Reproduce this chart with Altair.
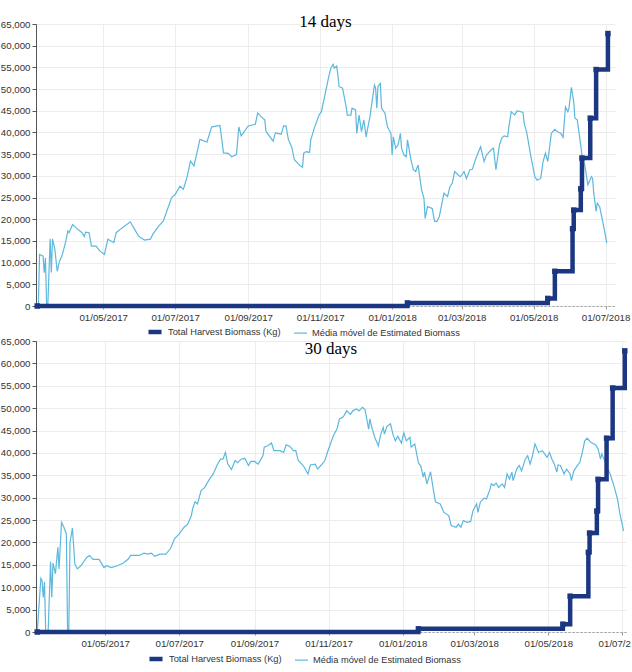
import altair as alt
import pandas as pd

# ---------------- data ----------------
BASE = pd.Timestamp("2017-03-01")   # day 0 for the moving-average day lists

SERIES = ["Total Harvest Biomass (Kg)", "Média móvel de Estimated Biomass"]

harvest_date = ["2017-03-06", "2018-01-14", "2018-05-13", "2018-05-19", "2018-06-03",
                "2018-06-04", "2018-06-10", "2018-06-11", "2018-06-18", "2018-06-23",
                "2018-07-03"]
harvest_val = [0, 700, 1750, 8000, 17800, 22100, 27000, 34100, 43300, 54500, 62800]

# 14-day moving average (days since 2017-03-01, kg)
ma14_day = [6, 7, 10, 11, 12, 13, 14, 16, 17, 18, 20, 22, 24, 26, 29, 31, 32, 35, 38, 43,
            45, 46, 49, 51, 55, 58, 62, 65, 70, 72, 77, 84, 86, 91, 96, 101, 103, 108, 112, 119,
            122, 126, 129, 132, 135, 138, 143, 149, 153, 160, 163, 167, 170, 174, 176, 178, 184, 190, 192, 195,
            198, 199, 205, 207, 212, 214, 216, 218, 221, 223, 228, 230, 231, 233, 236, 237, 240, 244, 246, 249,
            252, 254, 256, 257, 259, 260, 261, 264, 267, 268, 271, 272, 275, 276, 278, 280, 282, 284, 285, 287,
            289, 291, 292, 293, 294, 296, 297, 300, 302, 305, 306, 307, 309, 311, 313, 314, 316, 318, 319, 322,
            324, 326, 328, 331, 333, 334, 336, 340, 342, 344, 346, 348, 350, 353, 355, 357, 359, 362, 364, 367,
            369, 372, 374, 377, 381, 384, 386, 390, 392, 394, 397, 399, 401, 404, 405, 407, 410, 412, 417, 418,
            420, 422, 424, 427, 429, 432, 434, 436, 438, 441, 444, 446, 449, 451, 453, 455, 456, 458, 460, 461,
            463, 465, 467, 469, 470, 472, 475, 476, 477, 479, 480, 482, 484, 486, 488]
ma14_val = [0, 11900, 11500, 7700, 11100, 0, 0, 15500, 7700, 15500, 13000, 8000, 10400, 11500, 14600, 17300, 16900, 18800, 18000, 16900,
            16000, 17000, 16900, 13800, 13800, 12700, 11900, 15400, 14600, 16900, 18000, 19400, 18400, 16100, 15200, 15400, 16500, 18400, 19600, 25000,
            25700, 27600, 26900, 29600, 33400, 32300, 38400, 37800, 41300, 41600, 35300, 35200, 34400, 34900, 41300, 39200, 41500, 41900, 44500, 43600,
            42900, 40300, 38000, 39900, 39600, 41500, 41500, 38400, 36500, 33800, 32300, 32000, 35200, 35600, 35400, 38300, 41000, 44000, 44800, 48600,
            52500, 54800, 55700, 54800, 55300, 53200, 50600, 50200, 45900, 44000, 44000, 45600, 45200, 39800, 44000, 40200, 42900, 39000, 40600, 43300,
            47100, 50900, 50200, 45600, 50600, 51300, 45600, 44400, 41300, 39800, 34800, 39000, 36400, 37100, 39800, 36400, 34800, 34400, 38300, 33700,
            31400, 31000, 32500, 26700, 24800, 20200, 22900, 22500, 19500, 19500, 20600, 23300, 26000, 25200, 27500, 28300, 31000, 30200, 29800, 31000,
            29400, 31400, 31500, 34000, 36700, 33300, 34800, 36000, 36400, 31400, 37100, 38700, 39200, 39000, 41300, 44800, 44000, 45000, 44600, 42100,
            40200, 37100, 34000, 29800, 29000, 29400, 33300, 35200, 33300, 39800, 40700, 40200, 39800, 38900, 45900, 44800, 45600, 50400, 47100, 43300,
            42900, 39000, 34800, 32900, 31400, 27900, 29800, 29400, 26000, 21800, 23700, 22900, 20200, 17500, 14500]

# 30-day moving average (days since 2017-03-01, kg)
ma30_day = [5, 8, 9, 10, 11, 12, 14, 16, 17, 18, 20, 22, 23, 25, 27, 29, 30, 31, 32, 34,
            36, 38, 41, 46, 48, 51, 56, 60, 62, 66, 71, 76, 80, 82, 89, 93, 96, 99, 102, 106,
            111, 115, 118, 122, 126, 129, 132, 133, 135, 137, 140, 143, 147, 150, 153, 156, 158, 160, 162, 165,
            168, 170, 173, 176, 179, 181, 184, 187, 191, 192, 195, 198, 200, 203, 205, 208, 210, 213, 216, 218,
            220, 223, 225, 228, 230, 234, 236, 239, 242, 244, 246, 249, 252, 254, 257, 260, 263, 265, 268, 270,
            273, 275, 278, 279, 281, 283, 286, 288, 290, 291, 293, 296, 298, 300, 302, 305, 307, 309, 312, 313,
            316, 319, 321, 323, 324, 326, 329, 331, 333, 337, 340, 344, 346, 350, 352, 354, 356, 359, 362, 364,
            367, 368, 370, 373, 375, 378, 379, 381, 383, 385, 388, 390, 392, 394, 396, 397, 400, 402, 404, 407,
            409, 411, 413, 415, 418, 421, 423, 425, 427, 429, 431, 433, 434, 436, 439, 441, 444, 445, 447, 450,
            452, 454, 456, 458, 461, 465, 467, 469, 470, 473, 475, 477, 480, 483, 485, 488]
ma30_val = [0, 12000, 11500, 7700, 11200, 0, 0, 15700, 7700, 15400, 13000, 18900, 14100, 24500, 23400, 21900, 700, 0, 20000, 23200,
            15200, 14100, 14800, 16700, 17100, 16200, 16200, 14400, 14800, 14400, 14800, 15400, 16300, 17100, 17100, 17600, 17400, 17600, 16900, 17400,
            17400, 18700, 20800, 21900, 23400, 24100, 26000, 27500, 29100, 28600, 31600, 32300, 34200, 35300, 37200, 38600, 38600, 40100, 37500, 36300,
            38300, 37800, 38600, 38800, 37200, 38100, 38100, 37500, 39400, 41300, 41600, 42200, 40500, 40500, 40500, 40100, 41800, 41500, 40500, 40500,
            38300, 37500, 36800, 35300, 37300, 37500, 36400, 37300, 38300, 40100, 41600, 43900, 45400, 47600, 48000, 49400, 48600, 49400, 49800, 49400,
            50200, 49700, 45300, 47600, 45300, 43500, 41600, 44200, 45700, 44200, 45900, 46500, 44200, 42700, 43700, 42200, 44500, 42700, 43500, 41300,
            42000, 37800, 37000, 34600, 35700, 33100, 35800, 32300, 29100, 28600, 26700, 26000, 23800, 23400, 24100, 23400, 24900, 24500, 24700, 27100,
            28600, 26700, 29000, 29900, 29700, 31900, 33100, 32700, 33300, 32300, 33100, 32300, 35300, 34200, 35700, 33800, 36400, 37200, 36000, 38600,
            39400, 37500, 39400, 42000, 40100, 40500, 39800, 39000, 40100, 38600, 37500, 35700, 37300, 37200, 35300, 36400, 35300, 33800, 36000, 37200,
            37900, 40100, 42700, 43300, 42400, 41800, 40900, 38600, 39800, 37900, 36400, 35300, 32700, 29700, 26400, 22600]

x_tick_dates = ["2017-05-01", "2017-07-01", "2017-09-01", "2017-11-01",
                "2018-01-01", "2018-03-01", "2018-05-01", "2018-07-01"]
y_tick_values = [0, 5000, 10000, 15000, 20000, 25000, 30000, 35000, 40000,
                 45000, 50000, 55000, 60000, 65000]

# ---------------- styling ----------------
NAVY = "#1c3782"
SKY = "#5cb8de"
FONT = "Liberation Sans"
LABEL = "#333333"
GRID = "#ececec"


def dt(s):
    t = pd.Timestamp(s)
    return alt.DateTime(year=t.year, month=t.month, date=t.day)


def panel(days, vals, title, width, height, dom, legend_xy, title_offset):
    ma = pd.DataFrame({"date": BASE + pd.to_timedelta(days, unit="D"),
                       "value": vals, "series": SERIES[1]})
    hv = pd.DataFrame({"date": pd.to_datetime(harvest_date),
                       "value": harvest_val, "series": SERIES[0]})

    x = alt.X("date:T",
              scale=alt.Scale(domain=[dt(dom[0]), dt(dom[1])]),
              axis=alt.Axis(values=[dt(d) for d in x_tick_dates], format="%d/%m/%Y",
                            title=None, labelFont=FONT, labelFontSize=9.7,
                            labelColor=LABEL, grid=True, gridColor=GRID,
                            domainColor="#9a9a9a", domainDash=[2, 2],
                            tickColor="#9a9a9a", tickSize=3, labelPadding=3,
                            labelOverlap=False, labelFlush=False))
    y = alt.Y("value:Q",
              scale=alt.Scale(domain=[0, 65000], nice=False),
              axis=alt.Axis(values=y_tick_values, format=",d", title=None,
                            labelFont=FONT, labelFontSize=9.7, labelColor=LABEL,
                            grid=True, gridColor=GRID, domainColor="#555555",
                            tickColor="#555555", tickSize=4, labelPadding=2))
    leg = alt.Legend(title=None, orient="none", direction="horizontal",
                     legendX=legend_xy[0], legendY=legend_xy[1],
                     symbolType="stroke", symbolSize=170, labelFont=FONT,
                     labelFontSize=9.3, labelColor=LABEL, columnPadding=10,
                     labelOffset=4)
    color = alt.Color("series:N", scale=alt.Scale(domain=SERIES, range=[NAVY, SKY]),
                      legend=leg)
    sw = alt.StrokeWidth("series:N", scale=alt.Scale(domain=SERIES, range=[4.5, 1.2]),
                         legend=leg)

    ma_line = alt.Chart(ma).mark_line(interpolate="linear").encode(
        x=x, y=y, color=color, strokeWidth=sw)
    hv_line = alt.Chart(hv).mark_line(interpolate="step-after").encode(
        x=x, y=y, color=color, strokeWidth=sw)
    hv_pts = alt.Chart(hv).mark_point(shape="square", filled=True, size=30,
                                      opacity=1, color=NAVY).encode(x=x, y=y)

    return alt.layer(ma_line, hv_line, hv_pts).properties(
        width=width, height=height,
        title=alt.TitleParams(title, font="Liberation Serif", fontSize=17,
                              fontWeight="normal", color="#000000",
                              anchor="middle", offset=title_offset))


top = panel(ma14_day, ma14_val, "14 days", 579, 282,
            ("2017-03-05", "2018-07-09"), (110, 299), -12)
bottom = panel(ma30_day, ma30_val, "30 days", 590, 291,
               ("2017-03-05", "2018-07-04"), (111, 309), -22)

chart = alt.vconcat(top, bottom, spacing=-6).resolve_scale(
    color="independent", strokeWidth="independent"
).properties(
    padding={"left": 0, "top": 13, "right": -16, "bottom": 0},
    background="white"
).configure_view(stroke=None)

chart.save("out.html", embed_options={"renderer": "svg", "actions": False})
